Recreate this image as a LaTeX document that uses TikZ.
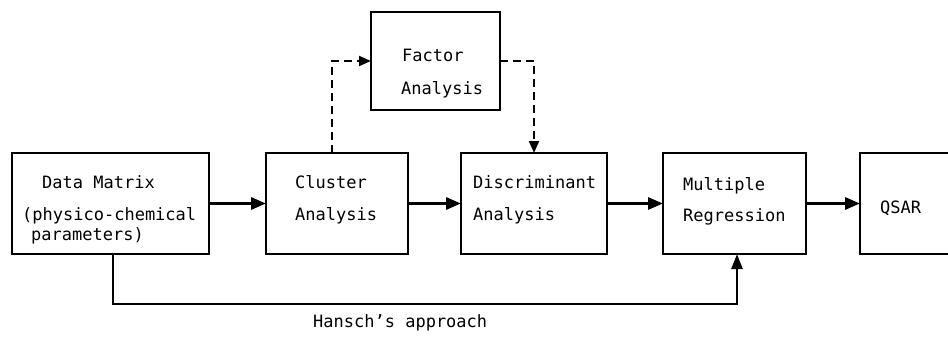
\documentclass[tikz,border=0pt]{standalone}
\usepackage{fontspec}
\newfontfamily\tw{DejaVu Sans Mono}
\usetikzlibrary{arrows.meta}
\tikzset{
  box/.style={draw, line width=2pt, inner sep=0pt, outer sep=0pt},
  lbl/.style={anchor=base west, inner sep=0pt, font=\tw\fontsize{17pt}{20pt}\selectfont},
  arr/.style={line width=3pt, -{Triangle[length=15pt,width=12pt]}},
  darr/.style={line width=2pt, dash pattern=on 8pt off 5pt, -{Triangle[length=12pt,width=10pt]}},
  harr/.style={line width=2.5pt, -{Triangle[length=15pt,width=11pt]}}
}
\begin{document}
\begin{tikzpicture}[x=1pt,y=-1pt]
\useasboundingbox[fill=white] (0,0) rectangle (948,337);
% boxes
\node[box, minimum width=197pt, minimum height=101pt] (dm) at (110.5,203.5) {};
\node[box, minimum width=142pt, minimum height=101pt] (ca) at (337,203.5) {};
\node[box, minimum width=146pt, minimum height=101pt] (da) at (534,203.5) {};
\node[box, minimum width=143pt, minimum height=101pt] (mr) at (734.5,203.5) {};
\node[inner sep=0pt, outer sep=0pt, minimum width=100pt, minimum height=101pt] (qs) at (910,203.5) {};
\draw[line width=2pt] (qs.north east) -- (qs.north west) -- (qs.south west) -- (qs.south east);
\node[box, minimum width=129pt, minimum height=98pt] (fa) at (435.5,61) {};
% texts
\node[lbl] (t1) at (42,188) {Data Matrix};
\node[lbl] (t2) at (22,220) {(physico-chemical};
\node[lbl] (t3) at (31,240) {parameters)};
\node[lbl] (t4) at (295,188) {Cluster};
\node[lbl] (t5) at (295,220) {Analysis};
\node[lbl] (t6) at (473,188) {Discriminant};
\node[lbl] (t7) at (473,220) {Analysis};
\node[lbl] (t8) at (683,190) {Multiple};
\node[lbl] (t9) at (683,221) {Regression};
\node[lbl] (t10) at (880,213) {QSAR};
\node[lbl] (t11) at (402,62) {Factor};
\node[lbl] (t12) at (401,94) {Analysis};
\node[lbl] (hansch) at (313,327) {Hansch’s approach};
% connectors
\draw[arr] (dm.east) -- (ca.west);
\draw[arr] (ca.east) -- (da.west);
\draw[arr] (da.east) -- (mr.west);
\draw[arr] (mr.east) -- (qs.west);
\draw[darr] ([xshift=-5pt]ca.north) |- (fa.west);
\draw[darr] (fa.east) -| (da.north);
\draw[harr] ([xshift=2.5pt]dm.south) -- ++(0,50) -| ([xshift=2.5pt]mr.south);
\end{tikzpicture}
\end{document}
